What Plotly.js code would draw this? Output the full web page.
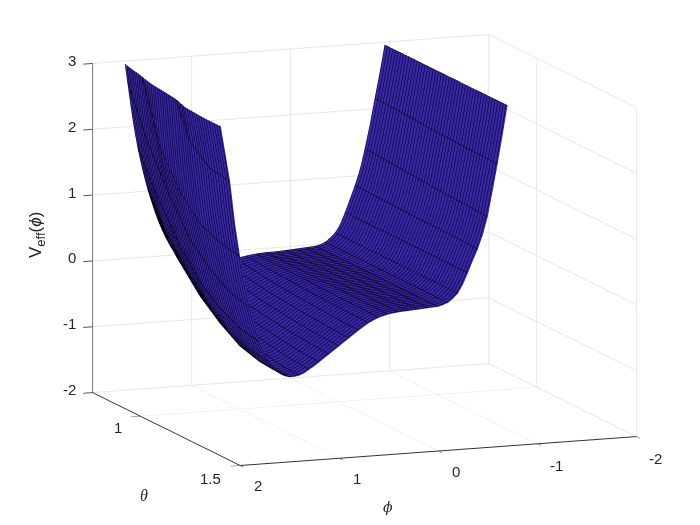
<!DOCTYPE html>
<html><head><meta charset="utf-8">
<script src="https://cdn.plot.ly/plotly-3.0.1.min.js"></script>
<style>html,body{margin:0;padding:0;background:#fff}#c{width:700px;height:525px}</style>
</head><body><div id="c"></div>
<script>
const phi = [-1.0,-0.95,-0.9,-0.85,-0.8,-0.75,-0.7,-0.65,-0.6,-0.55,-0.5,-0.45,-0.4,-0.35,-0.3,-0.25,-0.2,-0.1,0,0.1,0.2,0.3,0.4,0.5,0.6,0.7,0.8,0.9,1.0,1.05,1.1,1.15,1.2,1.25,1.3,1.35,1.4,1.45,1.5,1.55,1.6,1.65,1.7,1.75,1.8,1.85,1.9,1.95,2.0];
const theta = [0.785,0.88,1.0,1.1,1.2,1.3,1.4];
// one row per phi value, one column per theta value
const vNegativePhi = [
[3.9,3.9,3.9,3.9,3.9,3.9,3.9],
[3.45,3.45,3.45,3.45,3.45,3.45,3.45],
[3.0,3.0,3.0,3.0,3.0,3.0,3.0],
[2.58,2.58,2.57,2.56,2.56,2.55,2.55],
[2.2,2.19,2.17,2.15,2.14,2.13,2.12],
[1.8,1.78,1.76,1.75,1.74,1.73,1.72],
[1.45,1.43,1.40,1.38,1.36,1.35,1.33],
[1.13,1.12,1.1,1.09,1.08,1.07,1.06],
[0.9,0.89,0.88,0.87,0.87,0.86,0.85],
[0.7,0.7,0.69,0.69,0.69,0.68,0.68],
[0.5,0.5,0.5,0.5,0.5,0.5,0.5],
[0.32,0.32,0.33,0.33,0.33,0.33,0.33],
[0.2,0.2,0.2,0.2,0.2,0.2,0.2],
[0.13,0.13,0.13,0.125,0.125,0.125,0.125],
[0.07,0.07,0.07,0.07,0.07,0.07,0.07],
[0.04,0.04,0.04,0.04,0.04,0.04,0.04],
[0.02,0.02,0.02,0.02,0.02,0.02,0.02],
[0.01,0.01,0.01,0.01,0.01,0.01,0.01]];
const vPlateau = [
[0,0,0,0,0,0,0],
[-0.01,-0.01,-0.01,-0.01,-0.01,-0.01,-0.01],
[-0.02,-0.02,-0.02,-0.02,-0.02,-0.02,-0.02],
[-0.02,-0.02,-0.03,-0.03,-0.03,-0.04,-0.04],
[-0.03,-0.04,-0.05,-0.06,-0.07,-0.07,-0.08],
[-0.05,-0.08,-0.1,-0.12,-0.13,-0.14,-0.15],
[-0.08,-0.13,-0.18,-0.2,-0.22,-0.24,-0.25],
[-0.13,-0.2,-0.26,-0.29,-0.32,-0.34,-0.36],
[-0.19,-0.27,-0.35,-0.39,-0.43,-0.45,-0.47],
[-0.23,-0.31,-0.43,-0.49,-0.53,-0.56,-0.58],
[-0.24,-0.33,-0.49,-0.58,-0.63,-0.67,-0.69]];
const vWell = [
[-0.2,-0.33,-0.51,-0.62,-0.68,-0.72,-0.745],
[-0.14,-0.3,-0.52,-0.65,-0.72,-0.77,-0.79],
[-0.06,-0.26,-0.52,-0.67,-0.76,-0.82,-0.84],
[0.03,-0.2,-0.5,-0.68,-0.78,-0.85,-0.87],
[0.14,-0.12,-0.47,-0.66,-0.79,-0.865,-0.885],
[0.28,-0.03,-0.42,-0.63,-0.78,-0.865,-0.885],
[0.44,0.07,-0.34,-0.57,-0.75,-0.84,-0.865],
[0.63,0.19,-0.24,-0.5,-0.7,-0.79,-0.815],
[0.85,0.35,-0.1,-0.39,-0.61,-0.71,-0.735],
[1.10,0.55,0.08,-0.25,-0.49,-0.6,-0.63]];
const vWall = [
[1.4,0.82,0.3,-0.07,-0.32,-0.45,-0.49],
[1.75,1.15,0.55,0.15,-0.1,-0.26,-0.32],
[2.2,1.55,0.88,0.44,0.18,-0.02,-0.07],
[2.75,2.0,1.3,0.8,0.5,0.3,0.22],
[3.3,2.6,1.65,1.15,0.84,0.65,0.58],
[3.9,3.3,2.05,1.53,1.2,1.06,1.0],
[4.5,3.9,2.9,2.25,1.75,1.55,1.5],
[5.2,4.6,3.9,3.2,2.45,2.2,2.15],
[6.0,5.3,4.4,3.7,2.9,2.65,2.6],
[6.8,6.0,5.0,4.2,3.3,3.1,3.05]];
const vByPhi = vNegativePhi.concat(vPlateau,vWell,vWall);
const vGrid = theta.map((t,i)=>vByPhi.map(row=>row[i]));
const phiTicks = [-2,-1,0,1,2];
const thetaTicks = [1,1.5];
const vTicks = [-2,-1,0,1,2,3];
const surfaceColor = 'rgb(54,38,170)';
const textColor = '#262626';
const tickFont = {family:'"Liberation Sans",Arial,sans-serif',size:15,color:textColor};
const gridColor = '#e6e6e6';
const xMax = 2, yMin = 0.76, yMax = 1.5, zMin = -2;
function axis(range,ticks,lineColor){return {range:range,autorange:false,tickmode:'array',tickvals:ticks,
  title:{text:''},showgrid:true,gridcolor:gridColor,gridwidth:2,showbackground:false,zeroline:false,showspikes:false,
  showline:true,linecolor:lineColor,linewidth:2,ticks:'outside',ticklen:10,tickwidth:2,tickcolor:'#555555',showticklabels:false};}
function label(x,y,z,text,dx,dy,anchor){return {x:x,y:y,z:z,text:String(text),showarrow:false,xshift:dx,yshift:-dy,
  xanchor:anchor||'center',yanchor:'middle',font:tickFont};}
const sceneLabels = [].concat(
  vTicks.map(v=>label(xMax,yMin,v,v,-15,-3,'right')),
  thetaTicks.map(t=>label(xMax,t,zMin,t,t===1?-22:-30,t===1?11:13)),
  phiTicks.map(p=>label(p,yMax,zMin,p,p<0?19:17.5,p<0?22:20.5))
);
const trace = {type:'surface',x:phi,y:theta,z:vGrid,
  colorscale:[[0,surfaceColor],[1,surfaceColor]],showscale:false,hoverinfo:'skip',
  lighting:{ambient:1,diffuse:0,specular:0,roughness:1,fresnel:0},
  contours:{x:{show:true,start:-2,end:2.001,size:0.1,color:'#000',width:2,highlight:false},
            y:{show:true,start:0.785,end:1.401,size:0.0135,color:'#000',width:2,highlight:false},
            z:{show:false,highlight:false}}};
const layout = {width:700,height:525,margin:{l:0,r:0,t:0,b:0},paper_bgcolor:'#fff',showlegend:false,
  scene:{domain:{x:[0.0414,1],y:[0.048,1]},
    xaxis:axis([-2,2],phiTicks,'#333333'),yaxis:axis([yMin,yMax],thetaTicks,'#333333'),zaxis:axis([zMin,3],vTicks,'#777777'),
    aspectmode:'manual',aspectratio:{x:1.698,y:1.645,z:1.341},
    camera:{projection:{type:'orthographic'},up:{x:0,y:0,z:1},center:{x:0,y:0,z:0},eye:{x:0.705,y:1.833,z:0.38}},
    annotations:sceneLabels},
  annotations:[
    {xref:'paper',yref:'paper',x:144/700,y:1-495/525,xanchor:'center',yanchor:'middle',showarrow:false,text:'<i>θ</i>',font:{family:'"Liberation Serif",serif',size:16,color:textColor}},
    {xref:'paper',yref:'paper',x:388/700,y:1-507/525,xanchor:'center',yanchor:'middle',showarrow:false,text:'<i>ϕ</i>',font:{family:'"DejaVu Serif",serif',size:14,color:textColor}},
    {xref:'paper',yref:'paper',x:37/700,y:1-235/525,xanchor:'center',yanchor:'middle',showarrow:false,textangle:-90,text:'V<sub><span style="font-size:13px">eff</span></sub>(<i>ϕ</i>)',font:{family:'"Liberation Sans",Arial,sans-serif',size:17,color:textColor}}
  ]};
Plotly.newPlot('c',[trace],layout,{displayModeBar:false});
</script></body></html>
